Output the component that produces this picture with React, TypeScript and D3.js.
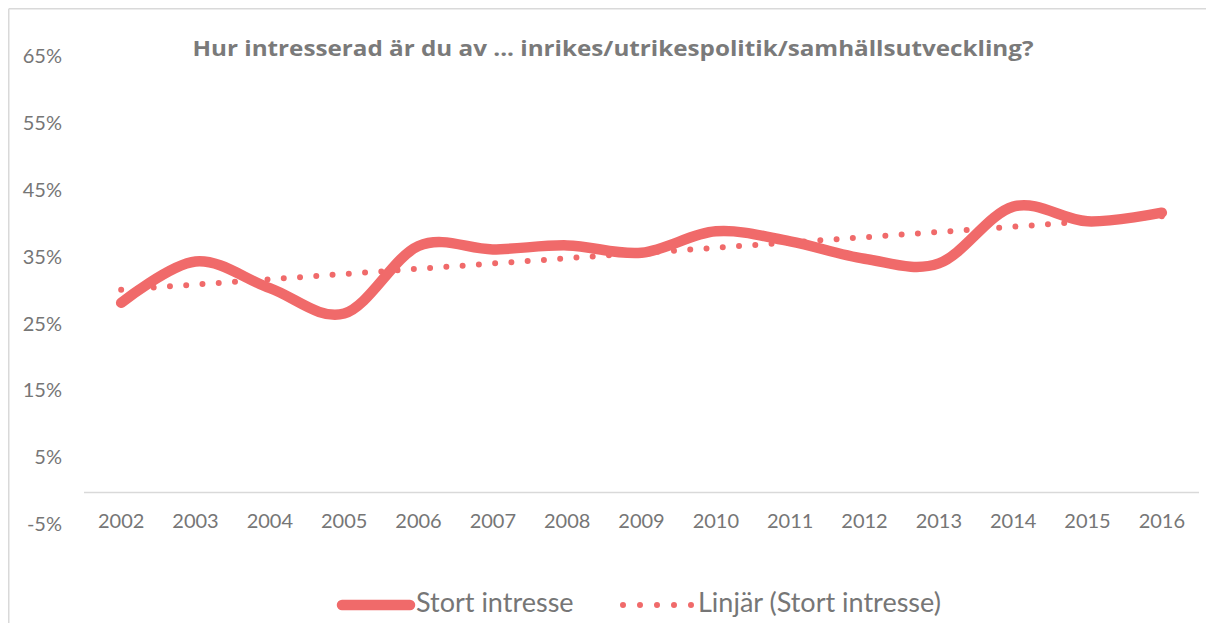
import React from "react";
import * as d3 from "d3";

const years = ["2002","2003","2004","2005","2006","2007","2008","2009","2010","2011","2012","2013","2014","2015","2016"];
const stortIntresse = [28.4, 34.6, 30.6, 26.8, 36.9, 36.4, 37.0, 35.9, 39.1, 37.6, 35.0, 34.3, 42.8, 40.6, 41.9];
const yTicks = [-5, 5, 15, 25, 35, 45, 55, 65];
const title = "Hur intresserad är du av ... inrikes/utrikespolitik/samhällsutveckling?";
const seriesName = "Stort intresse";
const trendName = "Linjär (Stort intresse)";

const W = 1206;
const H = 615;
const COLOR = "#F06A6A";
const TEXT = "#767676";
const FONT = "Lato, 'Open Sans', sans-serif";

export default function App() {
  const x = d3.scalePoint<string>().domain(years).range([76, 1191]).padding(0.5);
  const y = d3.scaleLinear().domain([-5, 65]).range([518, 50.3]);

  // linear trend (least squares), as Excel's linear trendline
  const n = stortIntresse.length;
  const idx = d3.range(n);
  const mx = d3.mean(idx) as number;
  const my = d3.mean(stortIntresse) as number;
  const slope =
    d3.sum(idx, (i) => (i - mx) * (stortIntresse[i] - my)) /
    d3.sum(idx, (i) => (i - mx) * (i - mx));
  const intercept = my - slope * mx;
  const trend = idx.map((i) => intercept + slope * i);

  const line = d3
    .line<number>()
    .x((_, i) => x(years[i]) as number)
    .y((d) => y(d))
    .curve(d3.curveCardinal.tension(0));
  const tline = d3
    .line<number>()
    .x((_, i) => x(years[i]) as number)
    .y((d) => y(d));

  return (
    <svg width={W} height={H} style={{ display: "block" }} fontFamily={FONT}>
      <rect x={0} y={0} width={W} height={H} fill="#fff" />
      <line x1={0.75} y1={0.75} x2={W} y2={0.75} stroke="#d9d9d9" strokeWidth={1.5} />
      <line x1={0.75} y1={0.75} x2={0.75} y2={H} stroke="#d9d9d9" strokeWidth={1.5} />

      <text x={605} y={48} textAnchor="middle" fontSize={22} fontWeight="bold" fill="#7a7a7a"
        fontFamily="'Open Sans', sans-serif" textLength={841} lengthAdjust="spacingAndGlyphs">
        {title}
      </text>

      {yTicks.map((t) => (
        <text key={t} x={54} y={y(t)} textAnchor="end" dominantBaseline="middle" fontSize={20} fill={TEXT}>
          {t + "%"}
        </text>
      ))}

      <line x1={76} x2={1191} y1={y(0)} y2={y(0)} stroke="#d9d9d9" strokeWidth={1.5} />

      {years.map((yr) => (
        <text key={yr} x={x(yr)} y={515} textAnchor="middle" dominantBaseline="middle" fontSize={20} fill={TEXT}>
          {yr}
        </text>
      ))}

      <path d={tline(trend) as string} fill="none" stroke={COLOR} strokeWidth={6}
        strokeLinecap="round" strokeDasharray="0 16.3" />
      <path d={line(stortIntresse) as string} fill="none" stroke={COLOR} strokeWidth={10.5}
        strokeLinecap="round" strokeLinejoin="round" />

      <g>
        <line x1={334} x2={402} y1={597} y2={597} stroke={COLOR} strokeWidth={10.5} strokeLinecap="round" />
        <text x={408} y={597} dominantBaseline="middle" fontSize={27} fill={TEXT}>{seriesName}</text>
        <line x1={615} x2={683.5} y1={597} y2={597} stroke={COLOR} strokeWidth={6}
          strokeLinecap="round" strokeDasharray="0 17" />
        <text x={690} y={597} dominantBaseline="middle" fontSize={27} fill={TEXT}>{trendName}</text>
      </g>
    </svg>
  );
}
